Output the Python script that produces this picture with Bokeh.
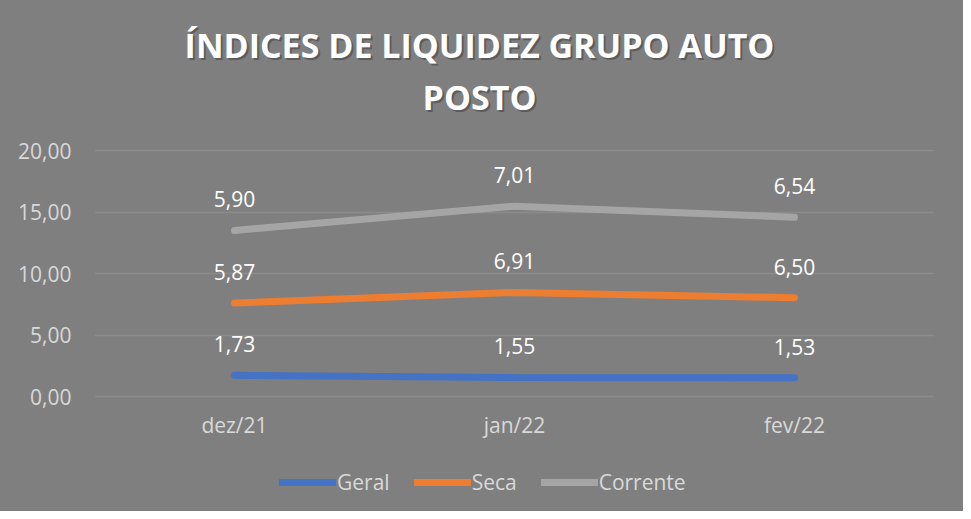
from bokeh.plotting import figure
from bokeh.models import (ColumnDataSource, Range1d, Label, Legend, LegendItem,
                          CustomJSTickFormatter, FixedTicker)
from bokeh.core.properties import value
from bokeh.embed import file_html
from bokeh.resources import INLINE

categories = ["dez/21", "jan/22", "fev/22"]
geral = [1.73, 1.55, 1.53]
seca = [5.87, 6.91, 6.50]
corrente = [5.90, 7.01, 6.54]
series_names = ["Geral", "Seca", "Corrente"]
colors = ["#4472C4", "#ED7D31", "#A5A5A5"]
y_ticks = [0, 5, 10, 15, 20]
title_lines = ["ÍNDICES DE LIQUIDEZ GRUPO AUTO", "POSTO"]

BG = "#7f7f7f"
FONT = "Open Sans"

# layout in pixels (figure 963x511): value 0 at y=396, value 20 at y=150
W, H = 963, 511
Y0_PX, Y20_PX = 396, 150
ppu = (Y0_PX - Y20_PX) / 20.0
y_lo = -(H - Y0_PX) / ppu
y_hi = 20 + Y20_PX / ppu

p = figure(x_range=categories, y_range=Range1d(y_lo, y_hi), width=W, height=H,
           output_backend="svg", toolbar_location=None,
           background_fill_color=BG, border_fill_color=BG,
           min_border_left=94, min_border_right=29, min_border_top=0, min_border_bottom=0)
p.styles = {"background-color": BG}
p.outline_line_color = None
p.xgrid.grid_line_color = None
p.ygrid.grid_line_color = "#8c8c8c"
p.ygrid.grid_line_width = 1.5
p.yaxis.ticker = FixedTicker(ticks=y_ticks)
p.yaxis.formatter = CustomJSTickFormatter(code="return tick.toFixed(2).replace('.', ',');")
p.xaxis.fixed_location = 0
for ax in (p.xaxis[0], p.yaxis[0]):
    ax.axis_line_color = None
    ax.major_tick_line_color = None
    ax.minor_tick_line_color = None
    ax.major_label_text_color = "#d9d9d9"
    ax.major_label_text_font = FONT
    ax.major_label_text_font_size = "21px"
p.yaxis.major_label_standoff = 17
p.xaxis.major_label_standoff = 8

# stacked values
stack = []
cum = [0.0, 0.0, 0.0]
for vals in (geral, seca, corrente):
    cum = [c + v for c, v in zip(cum, vals)]
    stack.append(list(cum))

items = []
for name, vals, top, col in zip(series_names, (geral, seca, corrente), stack, colors):
    src = ColumnDataSource(dict(x=categories, y=top,
                                lab=[f"{v:.2f}".replace(".", ",") for v in vals]))
    r = p.line("x", "y", source=src, line_color=col, line_width=7, line_cap="round")
    p.text("x", "y", text="lab", source=src, text_color="white", text_font=value(FONT),
           text_font_size="21px", text_align="center", text_baseline="middle", y_offset=-31)
    items.append(LegendItem(label=name, renderers=[r]))

legend = Legend(items=items, orientation="horizontal", location=(185, 15),
                background_fill_alpha=0, border_line_color=None,
                label_text_color="#d9d9d9", label_text_font=FONT, label_text_font_size="21px",
                glyph_width=57, glyph_height=22, spacing=24, padding=0, margin=0,
                label_standoff=1)
p.add_layout(legend, "center")

# title with shadow (screen units relative to frame bottom-left)
ys = [H - 44, H - 96]
for line, yy in zip(title_lines, ys):
    for dx, dy, c, a in ((2, -2, "#3a3a3a", 0.5), (0, 0, "white", 1.0)):
        p.add_layout(Label(x=385 + dx, y=yy + dy, x_units="screen", y_units="screen",
                           text=line, text_color=c, text_font=FONT, text_font_style="bold",
                           text_font_size="34px", text_align="center", text_baseline="middle",
                           text_alpha=a))

open("out.html", "w").write(file_html(p, INLINE))
